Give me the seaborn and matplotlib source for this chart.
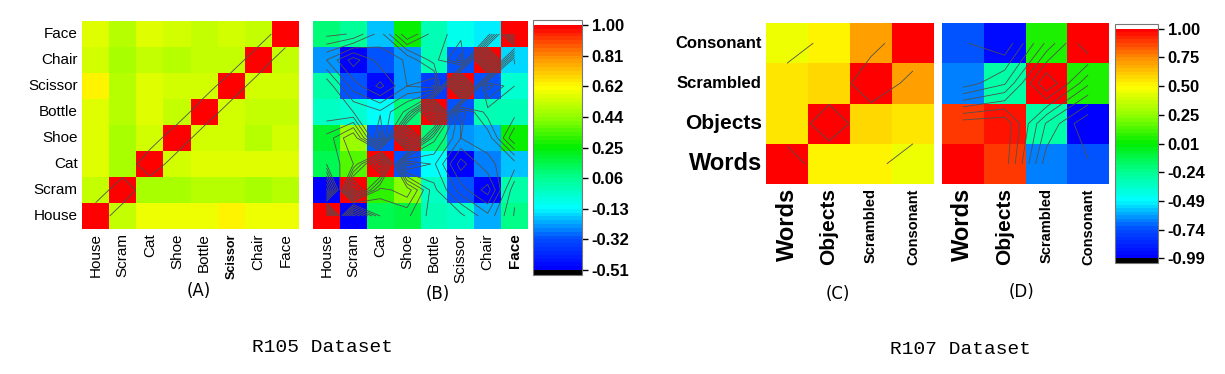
import numpy as np
import pandas as pd
import matplotlib
matplotlib.use('Agg')
import matplotlib.pyplot as plt
import seaborn as sns
from matplotlib.colors import LinearSegmentedColormap

# --- Data ---
r105_labels = ['House', 'Scram', 'Cat', 'Shoe', 'Bottle', 'Scissor', 'Chair', 'Face']
r107_labels = ['Words', 'Objects', 'Scrambled', 'Consonant']

# rows listed top -> bottom (Face ... House), columns House ... Face
r105_a = [
    [0.57, 0.49, 0.57, 0.54, 0.52, 0.55, 0.52, 1.00],
    [0.54, 0.46, 0.52, 0.50, 0.52, 0.52, 1.00, 0.52],
    [0.63, 0.50, 0.56, 0.55, 0.55, 1.00, 0.55, 0.55],
    [0.57, 0.50, 0.56, 0.52, 1.00, 0.55, 0.52, 0.51],
    [0.57, 0.47, 0.55, 1.00, 0.54, 0.54, 0.50, 0.54],
    [0.57, 0.47, 1.00, 0.55, 0.56, 0.57, 0.56, 0.57],
    [0.51, 1.00, 0.47, 0.47, 0.49, 0.49, 0.47, 0.49],
    [1.00, 0.52, 0.58, 0.58, 0.58, 0.63, 0.58, 0.58],
]
r105_b = [
    [0.08, 0.04, -0.20, 0.25, 0.00, -0.10, -0.15, 1.00],
    [-0.25, -0.50, -0.30, -0.24, 0.00, -0.30, 1.00, -0.17],
    [0.03, -0.30, -0.48, -0.25, -0.36, 1.00, -0.30, -0.05],
    [-0.02, -0.05, -0.13, 0.08, 1.00, -0.30, 0.00, 0.00],
    [0.18, 0.45, -0.30, 1.00, 0.08, -0.25, -0.22, 0.25],
    [0.15, 0.35, 1.00, -0.30, -0.13, -0.50, -0.27, -0.20],
    [-0.50, 1.00, 0.30, 0.42, -0.02, -0.30, -0.50, 0.03],
    [1.00, -0.51, 0.15, 0.17, 0.00, -0.02, -0.22, 0.06],
]
# rows top -> bottom (Consonant ... Words), columns Words ... Consonant
r107_c = [
    [0.45, 0.53, 0.70, 1.00],
    [0.55, 0.58, 1.00, 0.71],
    [0.55, 1.00, 0.58, 0.55],
    [1.00, 0.53, 0.53, 0.45],
]
r107_d = [
    [-0.72, -0.95, 0.05, 1.00],
    [-0.65, -0.28, 1.00, 0.05],
    [0.89, 0.95, -0.28, -0.99],
    [0.97, 0.89, -0.65, -0.72],
]
cbar_b_ticks = ['-0.51', '-0.32', '-0.13', '0.06', '0.25', '0.44', '0.62', '0.81', '1.00']
cbar_d_ticks = ['-0.99', '-0.74', '-0.49', '-0.24', '0.01', '0.25', '0.50', '0.75', '1.00']

# --- Colormap (blue -> cyan -> green -> yellow -> red) ---
cmap = LinearSegmentedColormap.from_list('rlike', [
    '#0000ff', '#0050ff', '#00ffff', '#00ff90', '#00ee00',
    '#90ff00', '#ffff00', '#ff9000', '#ff0000'], N=64)
cmap.set_under('black')
cmap.set_over('white')

sns.set_theme(style='white')
plt.rcParams['font.family'] = ['Liberation Sans', 'DejaVu Sans']
plt.rcParams['text.color'] = 'black'
plt.rcParams['xtick.color'] = 'black'
plt.rcParams['ytick.color'] = 'black'
plt.rcParams['contour.negative_linestyle'] = 'solid'

W, H = 1225, 374
fig = plt.figure(figsize=(W / 100, H / 100), dpi=100)


def px_axes(x0, y0, x1, y1):
    return fig.add_axes([x0 / W, 1 - y1 / H, (x1 - x0) / W, (y1 - y0) / H])


def draw(ax, mat, xlabels, ylabels, vmin, vmax, levels):
    df = pd.DataFrame(mat, index=ylabels, columns=xlabels)
    sns.heatmap(df, ax=ax, cmap=cmap, vmin=vmin, vmax=vmax, cbar=False,
                square=False, linewidths=0)
    mesh = ax.collections[0]
    n = len(xlabels)
    c = np.arange(n) + 0.5
    ax.contour(c, c, np.array(mat), levels=levels, colors='#505050',
               linewidths=0.6, linestyles='solid')
    ax.tick_params(length=0, pad=3)
    return mesh


def add_cbar(mesh, cax, vmin, vmax, labels):
    cb = fig.colorbar(mesh, cax=cax, extend='both', extendrect=True,
                      extendfrac=0.02)
    cb.set_ticks(np.linspace(vmin, vmax, len(labels)))
    cb.set_ticklabels(labels)
    cb.ax.tick_params(labelsize=12, length=4, width=1, color='black', pad=3)
    for t in cb.ax.get_yticklabels():
        t.set_fontweight('bold')
    cb.outline.set_edgecolor('#777777')
    cb.outline.set_linewidth(0.8)


rev105 = r105_labels[::-1]
rev107 = r107_labels[::-1]

# --- R105 (A) ---
ax_a = px_axes(82, 21, 299, 229)
draw(ax_a, r105_a, r105_labels, rev105, -0.51, 1.0, [0.75])
ax_a.set_yticklabels(rev105, rotation=0, fontsize=11)
ax_a.set_xticklabels(r105_labels, rotation=90, fontsize=11)
for t in ax_a.get_xticklabels():
    if t.get_text() == 'Scissor':
        t.set_fontweight('bold')
        t.set_fontsize(9)

# --- R105 (B) ---
ax_b = px_axes(313, 21, 528, 229)
mesh_b = draw(ax_b, r105_b, r105_labels, rev105, -0.51, 1.0,
              np.arange(-0.45, 1.0, 0.1))
ax_b.set_yticks([])
ax_b.set_xticklabels(r105_labels, rotation=90, fontsize=11)
for t in ax_b.get_xticklabels():
    if t.get_text() == 'Face':
        t.set_fontweight('bold')

cax_b = px_axes(533, 20, 582, 275)
add_cbar(mesh_b, cax_b, -0.51, 1.0, cbar_b_ticks)

# --- R107 (C) ---
sizes107 = {'Words': 17, 'Objects': 15, 'Scrambled': 12, 'Consonant': 12}
xsizes107 = {'Words': 17, 'Objects': 15, 'Scrambled': 10.5, 'Consonant': 10.5}
ax_c = px_axes(766, 23, 934, 184)
draw(ax_c, r107_c, r107_labels, rev107, -0.99, 1.0, [0.5, 0.8])
ax_c.set_yticklabels(rev107, rotation=0)
ax_c.set_xticklabels(r107_labels, rotation=90)
for t in ax_c.get_yticklabels():
    t.set_fontweight('bold')
    t.set_fontsize(sizes107[t.get_text()])
for t in ax_c.get_xticklabels():
    t.set_fontweight('bold')
    t.set_fontsize(xsizes107[t.get_text()])

# --- R107 (D) ---
ax_d = px_axes(942, 23, 1109, 184)
mesh_d = draw(ax_d, r107_d, r107_labels, rev107, -0.99, 1.0,
              [-0.75, -0.5, -0.25, 0.0, 0.25, 0.5, 0.75])
ax_d.set_yticks([])
ax_d.set_xticklabels(r107_labels, rotation=90)
for t in ax_d.get_xticklabels():
    t.set_fontweight('bold')
    t.set_fontsize(xsizes107[t.get_text()])

cax_d = px_axes(1115, 24, 1158, 263)
add_cbar(mesh_d, cax_d, -0.99, 1.0, cbar_d_ticks)

# --- captions ---
for txt, x, y in [('(A)', 199, 291), ('(B)', 438, 294), ('(C)', 838, 294), ('(D)', 1022, 292)]:
    fig.text(x / W, 1 - y / H, txt, ha='center', va='center', fontsize=12,
             family='DejaVu Sans')
fig.text(322 / W, 1 - 347 / H, 'R105 Dataset', ha='center', va='center',
         fontsize=14, family='Liberation Mono')
fig.text(960 / W, 1 - 350 / H, 'R107 Dataset', ha='center', va='center',
         fontsize=14, family='Liberation Mono')

fig.savefig('out.png', dpi=100, facecolor='white')
